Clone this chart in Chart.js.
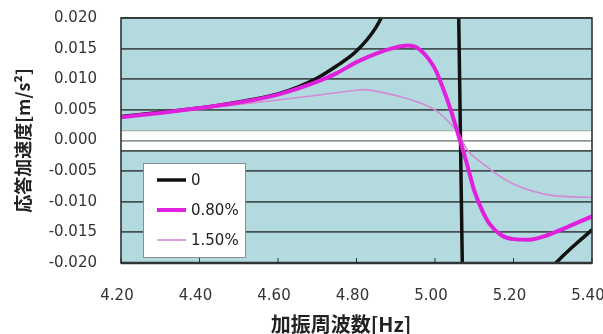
<!DOCTYPE html>
<html>
<head>
<meta charset="utf-8">
<script src="https://cdn.jsdelivr.net/npm/chart.js@4.4.1/dist/chart.umd.min.js"></script>
<style>
  html, body { margin: 0; padding: 0; background: #fff; }
  #wrap { width: 603px; height: 334px; position: relative; }
</style>
</head>
<body>
<div id="wrap"><canvas id="chart"></canvas></div>
<script>
// tick labels
const xTicks = [4.2, 4.4, 4.6, 4.8, 5.0, 5.2, 5.4];
const yTicks = [-0.02, -0.015, -0.01, -0.005, 0, 0.005, 0.01, 0.015, 0.02];
const xTitle = '加振周波数[Hz]';
const yTitle = '応答加速度[m/s²]';

// damping 0 (black)
const freq0 = [4.20, 4.30, 4.40, 4.50, 4.60, 4.65, 4.70, 4.75, 4.80, 4.85, 4.88, 4.92, 4.97, 5.01, 5.045, 5.085, 5.11, 5.15, 5.20, 5.25, 5.30, 5.35, 5.40];
const resp0 = [0.0039, 0.0046, 0.0053, 0.0063, 0.0076, 0.0087, 0.0102, 0.0122, 0.0146, 0.0185, 0.0225, 0.030, 0.040, 0.050, 0.060, -0.060, -0.050, -0.038, -0.029, -0.0240, -0.0205, -0.0174, -0.0146];

// damping 0.80% (magenta)
const freq08 = [4.20, 4.30, 4.40, 4.50, 4.60, 4.70, 4.75, 4.80, 4.85, 4.90, 4.93, 4.96, 5.00, 5.02, 5.04, 5.06, 5.08, 5.10, 5.12, 5.14, 5.17, 5.20, 5.24, 5.28, 5.32, 5.36, 5.40];
const resp08 = [0.0038, 0.0045, 0.0053, 0.0062, 0.0075, 0.0096, 0.0110, 0.0128, 0.0142, 0.0152, 0.0155, 0.0149, 0.0117, 0.0086, 0.0050, 0.0008, -0.0035, -0.0082, -0.0114, -0.0137, -0.0155, -0.0161, -0.0162, -0.0156, -0.0146, -0.0135, -0.0124];

// damping 1.50% (light violet)
const freq15 = [4.20, 4.30, 4.40, 4.50, 4.60, 4.70, 4.80, 4.82, 4.86, 4.91, 4.95, 5.00, 5.04, 5.06, 5.08, 5.12, 5.16, 5.20, 5.25, 5.30, 5.35, 5.40];
const resp15 = [0.0038, 0.0044, 0.0051, 0.0059, 0.0066, 0.0074, 0.0082, 0.0083, 0.0079, 0.0072, 0.0064, 0.0050, 0.0027, 0.0012, -0.0013, -0.0037, -0.0056, -0.0071, -0.0083, -0.0090, -0.0092, -0.0093];

const seriesLabels = ['0', '0.80%', '1.50%'];
const seriesColors = ['#111111', '#e020dc', '#d48ad4'];
const seriesWidths = [3.5, 4, 1.6];

const toPoints = (xs, ys) => xs.map((x, i) => ({ x: x, y: ys[i] }));

const TICK_FONT = { family: 'DejaVu Sans', size: 15 };
const TITLE_FONT = { family: 'Noto Sans CJK JP', size: 18, weight: 'bold', lineHeight: 1 };

// plot background, white band round zero, border, inner ticks, legend box, x title
const framePlugin = {
  id: 'frame',
  beforeDraw(chart) {
    const { ctx, chartArea: a, scales } = chart;
    ctx.save();
    ctx.fillStyle = '#b3dadf';
    ctx.fillRect(a.left, a.top, a.right - a.left, a.bottom - a.top);
    const yt = scales.y.getPixelForValue(0.0016);
    const yb = scales.y.getPixelForValue(-0.0017);
    ctx.fillStyle = '#ffffff';
    ctx.fillRect(a.left, yt, a.right - a.left, yb - yt);
    ctx.lineWidth = 1.2;
    ctx.strokeStyle = '#a9b1b1';
    ctx.beginPath(); ctx.moveTo(a.left, yt); ctx.lineTo(a.right, yt); ctx.stroke();
    ctx.strokeStyle = '#465252';
    ctx.lineWidth = 1.8;
    ctx.beginPath(); ctx.moveTo(a.left, yb); ctx.lineTo(a.right, yb); ctx.stroke();
    ctx.restore();
  },
  afterDraw(chart) {
    const { ctx, chartArea: a, scales } = chart;
    ctx.save();
    // inner tick marks on the x axis
    ctx.strokeStyle = '#333';
    ctx.lineWidth = 1;
    scales.x.ticks.forEach(t => {
      const px = scales.x.getPixelForValue(t.value);
      ctx.beginPath(); ctx.moveTo(px, a.bottom); ctx.lineTo(px, a.bottom - 5); ctx.stroke();
    });
    // border
    ctx.strokeStyle = '#2f3535';
    ctx.lineWidth = 1.6;
    ctx.strokeRect(a.left, a.top, a.right - a.left, a.bottom - a.top);
    ctx.lineWidth = 2.4;
    ctx.beginPath(); ctx.moveTo(a.left, a.bottom); ctx.lineTo(a.right, a.bottom); ctx.stroke();

    // legend
    const lx = a.left + 22, ly = a.top + 145, lw = 102, lh = 94;
    ctx.fillStyle = '#ffffff';
    ctx.fillRect(lx, ly, lw, lh);
    ctx.strokeStyle = '#8a9090';
    ctx.lineWidth = 1;
    ctx.strokeRect(lx + 0.5, ly + 0.5, lw, lh);
    ctx.font = '15px "DejaVu Sans"';
    ctx.textBaseline = 'middle';
    ctx.textAlign = 'left';
    chart.data.datasets.forEach((ds, i) => {
      const yy = ly + 17 + i * 30;
      ctx.strokeStyle = ds.borderColor;
      ctx.lineWidth = ds.borderWidth;
      ctx.beginPath(); ctx.moveTo(lx + 14, yy); ctx.lineTo(lx + 43, yy); ctx.stroke();
      ctx.fillStyle = '#222';
      ctx.fillText(ds.label, lx + 48, yy + 1);
    });

    // x axis title, sitting a little left of the axis centre as in the original
    ctx.font = 'bold 20px "Noto Sans CJK JP"';
    ctx.textAlign = 'center';
    ctx.textBaseline = 'middle';
    ctx.fillStyle = '#222';
    ctx.fillText(xTitle, 341, chart.height - 10);
    ctx.restore();
  }
};

new Chart(document.getElementById('chart'), {
  type: 'line',
  data: {
    datasets: [
      { label: seriesLabels[0], data: toPoints(freq0, resp0), borderColor: seriesColors[0], borderWidth: seriesWidths[0], order: 2 },
      { label: seriesLabels[1], data: toPoints(freq08, resp08), borderColor: seriesColors[1], borderWidth: seriesWidths[1], order: 0 },
      { label: seriesLabels[2], data: toPoints(freq15, resp15), borderColor: seriesColors[2], borderWidth: seriesWidths[2], order: 1 }
    ]
  },
  options: {
    responsive: true,
    maintainAspectRatio: false,
    animation: false,
    layout: { padding: { left: 0, right: 11, top: 18, bottom: 0 } },
    elements: {
      point: { radius: 0 },
      line: { cubicInterpolationMode: 'monotone', fill: false, borderCapStyle: 'round', borderJoinStyle: 'round' }
    },
    plugins: {
      legend: { display: false },
      tooltip: { enabled: false }
    },
    scales: {
      x: {
        type: 'linear',
        min: 4.2,
        max: 5.4,
        afterBuildTicks: s => { s.ticks = xTicks.map(v => ({ value: v })); },
        afterFit: s => { s.height = 71; s.paddingLeft = 0; s.paddingRight = 0; },
        grid: { display: false, drawTicks: false },
        border: { display: false },
        ticks: {
          font: TICK_FONT,
          color: '#333',
          padding: 24,
          labelOffset: -4,
          maxRotation: 0,
          callback: v => Number(v).toFixed(2)
        },
        title: { display: false }
      },
      y: {
        min: -0.02,
        max: 0.02,
        afterBuildTicks: s => { s.ticks = yTicks.map(v => ({ value: v })); },
        afterFit: s => { s.width = 121; s.paddingTop = 0; s.paddingBottom = 0; },
        grid: {
          drawTicks: false,
          lineWidth: 1.8,
          color: c => (c.tick && Math.abs(c.tick.value) < 1e-9) ? '#8f9898' : '#465252'
        },
        border: { display: false },
        ticks: {
          font: TICK_FONT,
          color: '#333',
          padding: 24,
          callback: v => Number(v).toFixed(3)
        },
        title: { display: true, text: yTitle, font: TITLE_FONT, color: '#222', padding: { top: 14, bottom: 0 } }
      }
    }
  },
  plugins: [framePlugin]
});
</script>
</body>
</html>
